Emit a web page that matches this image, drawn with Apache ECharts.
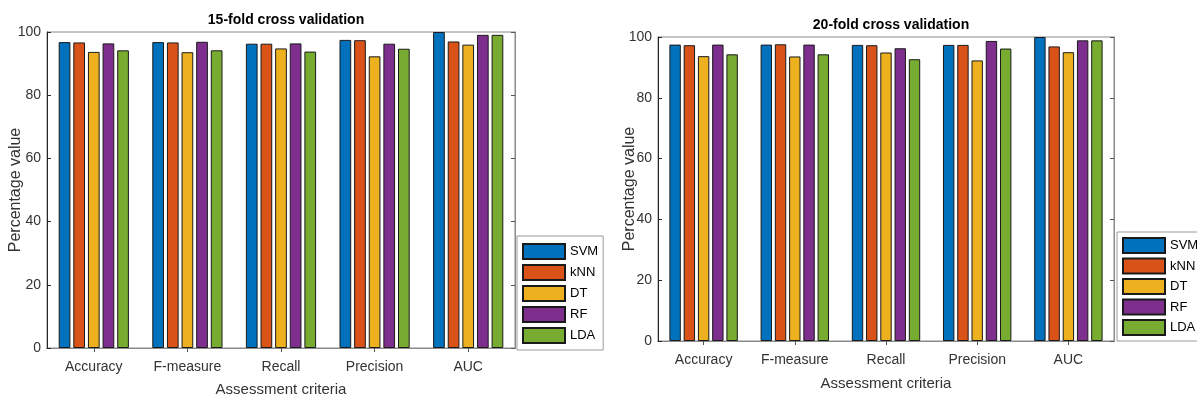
<!DOCTYPE html>
<html>
<head>
<meta charset="utf-8">
<script src="https://cdn.jsdelivr.net/npm/echarts@6/dist/echarts.min.js"></script>
<style>
  html, body { margin: 0; padding: 0; background: #fff; }
  #chart { width: 1197px; height: 400px; }
</style>
</head>
<body>
<div id="chart"></div>
<script>
// Assessment criteria on the x axis
const criteria = ['Accuracy', 'F-measure', 'Recall', 'Precision', 'AUC'];
const classifiers = ['SVM', 'kNN', 'DT', 'RF', 'LDA'];
const yTicks = [0, 20, 40, 60, 80, 100];

// 15-fold cross validation scores (%)
const fold15SVM = [96.8, 96.8, 96.3, 97.5, 100];
const fold15kNN = [96.7, 96.7, 96.3, 97.4, 97.0];
const fold15DT  = [93.7, 93.6, 94.8, 92.3, 96.0];
const fold15RF  = [96.4, 96.9, 96.4, 96.3, 99.1];
const fold15LDA = [94.2, 94.2, 93.8, 94.7, 99.1];

// 20-fold cross validation scores (%)
const fold20SVM = [97.5, 97.5, 97.4, 97.4, 100];
const fold20kNN = [97.3, 97.6, 97.3, 97.4, 96.9];
const fold20DT  = [93.7, 93.6, 94.9, 92.3, 95.0];
const fold20RF  = [97.5, 97.5, 96.3, 98.7, 98.9];
const fold20LDA = [94.3, 94.3, 92.7, 96.2, 98.9];

const colors = ['#0072BD', '#D95319', '#EDB120', '#7E2F8E', '#77AC30'];
const FONT = '"Liberation Sans", Arial, Helvetica, sans-serif';

const panels = [
  { title: '15-fold cross validation', grid: { left: 47, top: 32, width: 468, height: 316 },
    values: [fold15SVM, fold15kNN, fold15DT, fold15RF, fold15LDA],
    xNameGap: 34, yNameGap: 23,
    legend: { left: 517, top: 236, padding: [7, 5, 6, 5], itemGap: 4 } },
  { title: '20-fold cross validation', grid: { left: 658, top: 37, width: 456, height: 304 },
    values: [fold20SVM, fold20kNN, fold20DT, fold20RF, fold20LDA],
    xNameGap: 35, yNameGap: 20,
    legend: { left: 1117, top: 232, padding: [5, 5, 5, 5], itemGap: 3.5 } }
];

const option = {
  backgroundColor: '#fff',
  animation: false,
  title: [], grid: [], xAxis: [], yAxis: [], legend: [], series: []
};

const yMax = yTicks[yTicks.length - 1];
const yStep = yTicks[1] - yTicks[0];

panels.forEach((p, i) => {
  const g = p.grid;
  option.title.push({
    text: p.title,
    left: g.left + g.width / 2,
    top: g.top - 24,
    textAlign: 'center',
    textStyle: { fontFamily: FONT, fontSize: 14, fontWeight: 'bold', color: '#000' }
  });
  option.grid.push({
    left: g.left, top: g.top, width: g.width, height: g.height,
    outerBoundsMode: 'none', containLabel: false,
    show: true, borderColor: '#8a8a8a', borderWidth: 1, backgroundColor: '#fff'
  });
  // bottom category axis with labels
  option.xAxis.push({
    type: 'category', gridIndex: i, data: criteria, position: 'bottom',
    name: 'Assessment criteria', nameLocation: 'middle', nameGap: p.xNameGap,
    nameMoveOverlap: false,
    nameTextStyle: { fontFamily: FONT, fontSize: 15, color: '#333', verticalAlign: 'top' },
    axisLine: { show: true, lineStyle: { color: '#262626', width: 1 } },
    axisTick: { show: true, inside: true, alignWithLabel: true, length: 4, lineStyle: { color: '#262626' } },
    axisLabel: { fontFamily: FONT, fontSize: 14, color: '#333', margin: 12 },
    splitLine: { show: false }
  });
  // top category axis, ticks only
  option.xAxis.push({
    type: 'category', gridIndex: i, data: criteria, position: 'top',
    axisLine: { show: true, lineStyle: { color: '#8a8a8a', width: 1 } },
    axisTick: { show: true, inside: true, alignWithLabel: true, length: 4, lineStyle: { color: '#555' } },
    axisLabel: { show: false }, splitLine: { show: false }
  });
  // left value axis with labels
  option.yAxis.push({
    type: 'value', gridIndex: i, min: yTicks[0], max: yMax, interval: yStep, position: 'left',
    name: 'Percentage value', nameLocation: 'middle', nameGap: p.yNameGap,
    nameMoveOverlap: false,
    nameTextStyle: { fontFamily: FONT, fontSize: 16, color: '#333' },
    axisLine: { show: true, lineStyle: { color: '#262626', width: 1 } },
    axisTick: { show: true, inside: true, length: 4, lineStyle: { color: '#262626' } },
    axisLabel: { fontFamily: FONT, fontSize: 14, color: '#333', margin: 6 },
    splitLine: { show: false }
  });
  // right value axis, ticks only
  option.yAxis.push({
    type: 'value', gridIndex: i, min: yTicks[0], max: yMax, interval: yStep, position: 'right',
    axisLine: { show: true, lineStyle: { color: '#8a8a8a', width: 1 } },
    axisTick: { show: true, inside: true, length: 4, lineStyle: { color: '#555' } },
    axisLabel: { show: false }, splitLine: { show: false }
  });
  option.legend.push({
    orient: 'vertical', left: p.legend.left, top: p.legend.top,
    padding: p.legend.padding, itemGap: p.legend.itemGap,
    itemWidth: 42, itemHeight: 15, icon: 'rect',
    backgroundColor: '#fff', borderColor: '#9a9a9a', borderWidth: 1, borderRadius: 0,
    selectedMode: false,
    textStyle: { fontFamily: FONT, fontSize: 13, color: '#000' },
    data: classifiers
  });
  classifiers.forEach((name, k) => {
    option.series.push({
      type: 'bar', name: name,
      xAxisIndex: i * 2, yAxisIndex: i * 2,
      data: p.values[k],
      barGap: '25%', barCategoryGap: '25%',
      itemStyle: { color: colors[k], borderColor: '#1a1a1a', borderWidth: 1 },
      emphasis: { disabled: true }
    });
  });
});

const chart = echarts.init(document.getElementById('chart'), null, { renderer: 'canvas' });
chart.setOption(option);
</script>
</body>
</html>
